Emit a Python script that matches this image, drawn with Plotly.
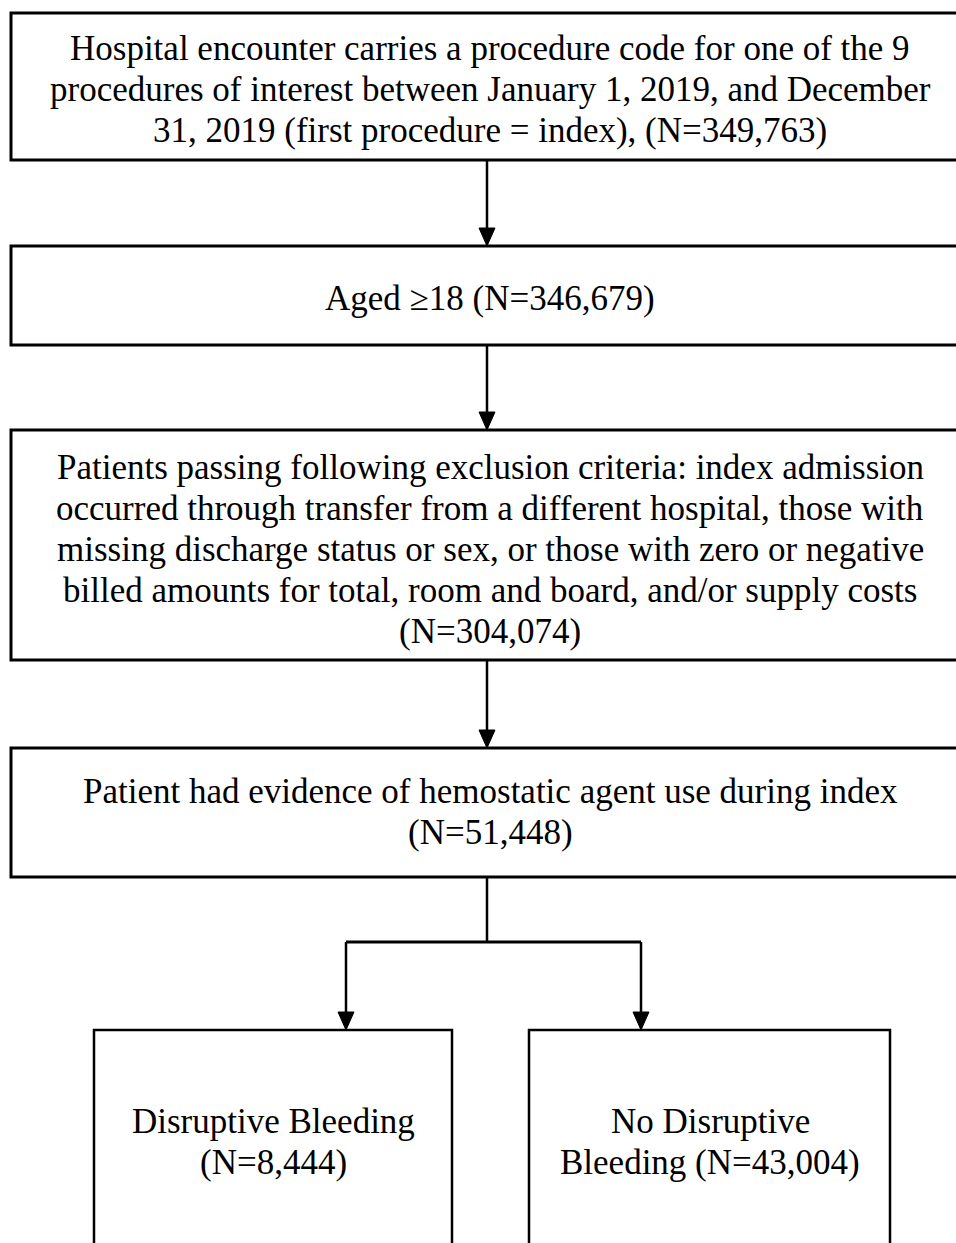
import plotly.graph_objects as go

# ---- data ----
stage_lines = [
    ["Hospital encounter carries a procedure code for one of the 9",
     "procedures of interest between January 1, 2019, and December",
     "31, 2019 (first procedure = index), (N={n})"],
    ["Aged ≥18 (N={n})"],
    ["Patients passing following exclusion criteria: index admission",
     "occurred through transfer from a different hospital, those with",
     "missing discharge status or sex, or those with zero or negative",
     "billed amounts for total, room and board, and/or supply costs",
     "(N={n})"],
    ["Patient had evidence of hemostatic agent use during index",
     "(N={n})"],
]
stage_counts = [349763, 346679, 304074, 51448]

split_lines = [["Disruptive Bleeding", "(N={n})"],
               ["No Disruptive", "Bleeding (N={n})"]]
split_counts = [8444, 43004]

# ---- layout geometry (pixels) ----
W, H = 956, 1243
stage_boxes = [(11, 13, 975, 160), (11, 246, 975, 345), (11, 430, 975, 660), (11, 748, 975, 877)]
stage_text_top = [48, 298, 467, 791]
split_boxes = [(94, 1030, 452, 1300), (529, 1030, 890, 1300)]
split_text_x = [273, 710]
split_text_top = 1121
LINE_H = 41
cx, text_cx = 487, 490
FONT = dict(family="Liberation Serif, Times New Roman, serif", size=35, color="black")

fig = go.Figure()
shapes, annotations = [], []


def arrow(x, y0, y1):
    shapes.append(dict(type="line", x0=x, x1=x, y0=y0, y1=y1 - 14, xref="x", yref="y",
                       line=dict(color="black", width=2.5)))
    shapes.append(dict(type="path", path=f"M {x-8},{y1-18} L {x+8},{y1-18} L {x},{y1} Z",
                       xref="x", yref="y", fillcolor="black", line=dict(color="black", width=1)))


def add_text(x, y_top, lines, n):
    for k, ln in enumerate(lines):
        annotations.append(dict(x=x, y=y_top + k * LINE_H, xref="x", yref="y", showarrow=False,
                                text=ln.format(n=f"{n:,}"), font=FONT,
                                xanchor="center", yanchor="middle"))


for (x0, y0, x1, y1), lines, n, yt in zip(stage_boxes, stage_lines, stage_counts, stage_text_top):
    shapes.append(dict(type="rect", x0=x0, x1=x1, y0=y0, y1=y1, xref="x", yref="y",
                       line=dict(color="black", width=3), fillcolor="white", layer="below"))
    add_text(text_cx, yt, lines, n)

for i in range(len(stage_boxes) - 1):
    arrow(cx, stage_boxes[i][3], stage_boxes[i + 1][1])

for (x0, y0, x1, y1), lines, n, tx in zip(split_boxes, split_lines, split_counts, split_text_x):
    shapes.append(dict(type="rect", x0=x0, x1=x1, y0=y0, y1=y1, xref="x", yref="y",
                       line=dict(color="black", width=2.5), fillcolor="white", layer="below"))
    add_text(tx, split_text_top, lines, n)

# split connector
split_y = 942
shapes.append(dict(type="line", x0=cx, x1=cx, y0=stage_boxes[-1][3], y1=split_y, xref="x", yref="y",
                   line=dict(color="black", width=2.5)))
lx = [346, 641]
shapes.append(dict(type="line", x0=lx[0], x1=lx[1], y0=split_y, y1=split_y, xref="x", yref="y",
                   line=dict(color="black", width=3)))
for x in lx:
    arrow(x, split_y, split_boxes[0][1])

fig.update_layout(
    width=W, height=H, margin=dict(l=0, r=0, t=0, b=0, pad=0),
    paper_bgcolor="white", plot_bgcolor="white",
    xaxis=dict(range=[0, W], visible=False, fixedrange=True),
    yaxis=dict(range=[H, 0], visible=False, fixedrange=True),
    shapes=shapes, annotations=annotations, showlegend=False,
)
fig.write_html("out.html", config={"displayModeBar": False},
               post_script="document.body.style.margin='0';document.body.style.overflow='hidden';")
